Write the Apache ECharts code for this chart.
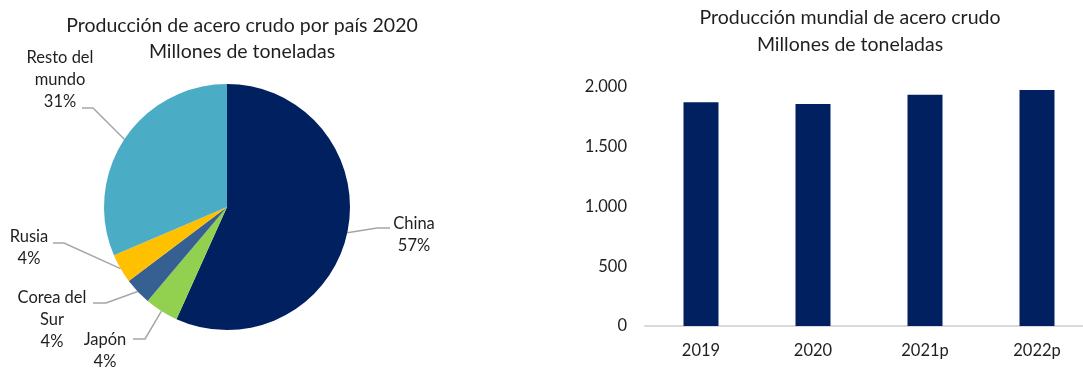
<!DOCTYPE html>
<html>
<head>
<meta charset="utf-8">
<script src="https://cdn.jsdelivr.net/npm/echarts@6/dist/echarts.min.js"></script>
<style>
  html, body { margin: 0; padding: 0; background: #ffffff; }
  #chart { width: 1083px; height: 368px; }
</style>
</head>
<body>
<div id="chart"></div>
<script>
// Producción de acero crudo 2020 por país (millones de toneladas)
const countries = ['China', 'Japón', 'Corea del Sur', 'Rusia', 'Resto del mundo'];
const countryValues = [1065, 83, 67, 72, 590];
const countryLabels = ['China', 'Japón', 'Corea del\nSur', 'Rusia', 'Resto del\nmundo'];
const countryColors = ['#002060', '#92D050', '#376092', '#FFC000', '#4BACC6'];

// Producción mundial (millones de toneladas)
const years = ['2019', '2020', '2021p', '2022p'];
const worldValues = [1869, 1856, 1933, 1972];
const yTicks = [0, 500, 1000, 1500, 2000];

const FONT = 'Lato, "Liberation Sans", sans-serif';
const TEXT = '#1f1f1f';

// Where each pie label sits, with the elbow and end of its leader line
const labelSpots = {
  'China':           { x: 414, y: 235, elbow: [377, 228], end: [390, 228] },
  'Japón':           { x: 105, y: 351, elbow: [145, 339], end: [133, 339] },
  'Corea del Sur':   { x: 52,  y: 320, elbow: [106, 303], end: [93, 303] },
  'Rusia':           { x: 29,  y: 248, elbow: [64, 243],  end: [53, 243] },
  'Resto del mundo': { x: 60,  y: 80,  elbow: [93, 108],  end: [82, 108] }
};

const total = countryValues.reduce((a, b) => a + b, 0);

const chart = echarts.init(document.getElementById('chart'), null, { renderer: 'canvas' });

chart.setOption({
  backgroundColor: '#ffffff',
  animation: false,
  textStyle: { fontFamily: FONT },
  title: [
    {
      text: 'Producción de acero crudo por país 2020\nMillones de toneladas',
      left: 237, top: 8, textAlign: 'center',
      textStyle: { fontFamily: FONT, fontSize: 19.5, fontWeight: 'normal', color: TEXT, lineHeight: 26 }
    },
    {
      text: 'Producción mundial de acero crudo\nMillones de toneladas',
      left: 845, top: -1, textAlign: 'center',
      textStyle: { fontFamily: FONT, fontSize: 19.5, fontWeight: 'normal', color: TEXT, lineHeight: 27 }
    }
  ],
  // the plot runs a little past the right edge, so the last category is cut
  grid: { left: 645, width: 448, top: 86.7, bottom: 42, containLabel: false, outerBoundsMode: 'none' },
  xAxis: {
    type: 'category',
    data: years,
    axisLine: { show: true, lineStyle: { color: '#d9d9d9', width: 2 } },
    axisTick: { show: false },
    axisLabel: { color: TEXT, fontSize: 16.5, fontFamily: FONT, margin: 16 },
    splitLine: { show: false }
  },
  yAxis: {
    type: 'value',
    min: yTicks[0], max: yTicks[yTicks.length - 1], interval: yTicks[1] - yTicks[0],
    axisLine: { show: false },
    axisTick: { show: false },
    splitLine: { show: false },
    axisLabel: {
      color: TEXT, fontSize: 16.5, fontFamily: FONT, margin: 18,
      formatter: v => v.toLocaleString('de-DE')
    }
  },
  series: [
    {
      type: 'bar',
      data: worldValues,
      barWidth: 35,
      itemStyle: { color: '#002060' }
    },
    {
      type: 'pie',
      center: [227, 207],
      radius: 123,
      startAngle: 90,
      clockwise: true,
      avoidLabelOverlap: false,
      data: countries.map((name, i) => ({
        name,
        value: countryValues[i],
        itemStyle: { color: countryColors[i] }
      })),
      label: {
        show: true,
        position: 'outside',
        fontFamily: FONT,
        fontSize: 16.5,
        lineHeight: 22,
        color: TEXT,
        formatter: p => countryLabels[p.dataIndex] + '\n' + Math.round(p.value / total * 100) + '%'
      },
      labelLine: { show: true, lineStyle: { color: '#a6a6a6', width: 1.5 } },
      labelLayout: params => {
        const spot = labelSpots[countries[params.dataIndex]];
        const start = params.labelLinePoints ? params.labelLinePoints[0] : spot.elbow;
        return {
          x: spot.x, y: spot.y,
          align: 'center', verticalAlign: 'middle',
          labelLinePoints: [start, spot.elbow, spot.end]
        };
      }
    }
  ]
});
</script>
</body>
</html>
